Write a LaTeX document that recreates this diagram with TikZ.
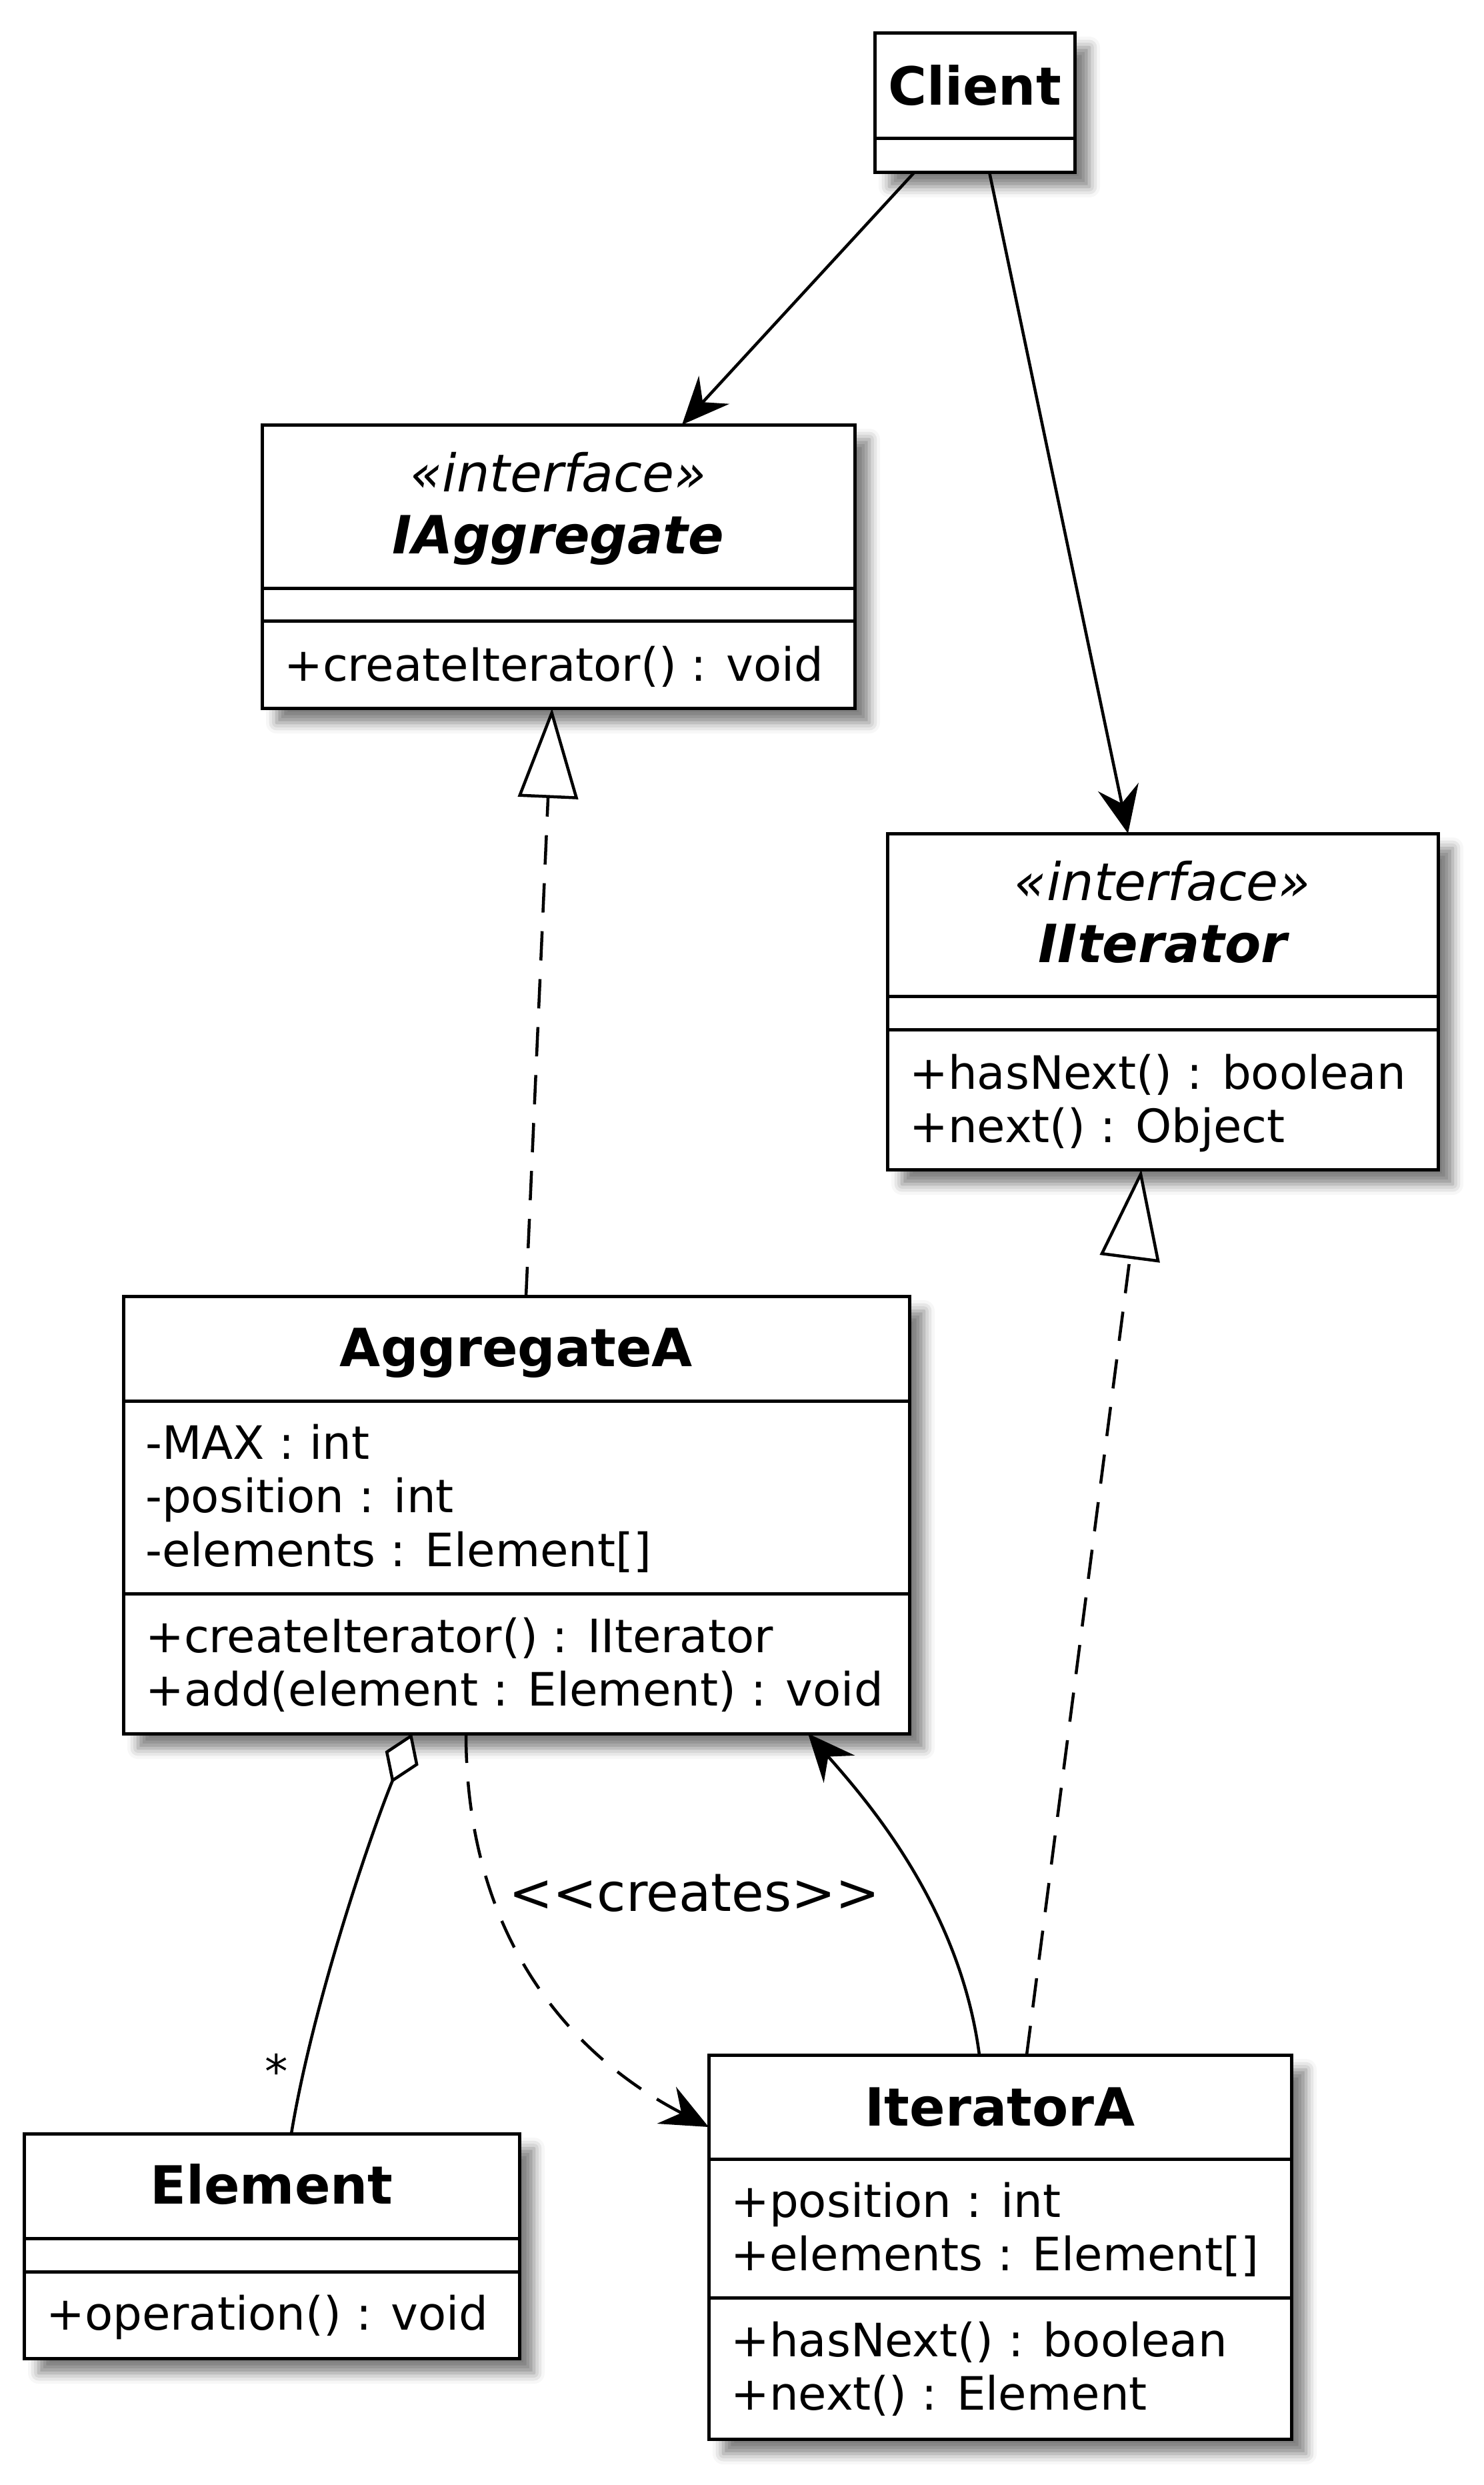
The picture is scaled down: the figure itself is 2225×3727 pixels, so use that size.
\documentclass[tikz,border=0pt]{standalone}
\usepackage{fontspec}
\setmainfont{DejaVu Sans}[ItalicFont={DejaVu Sans Oblique},BoldItalicFont={DejaVu Sans Bold Oblique}]
\usepackage{tikz}
\usetikzlibrary{calc,arrows.meta,shadows.blur}

\begin{document}
\begin{tikzpicture}[x=1pt, y=-1pt]
  \useasboundingbox (0,0) rectangle (2225,3727);

  \tikzset{
    class box/.style={draw, line width=5pt, fill=white, anchor=north west,
      inner sep=0pt, outer sep=0pt,
      blur shadow={shadow xshift=22pt, shadow yshift=-22pt, shadow blur radius=16pt,
        shadow opacity=50}},
    sep line/.style={line width=5pt},
    name text/.style={font=\fontsize{79}{92}\selectfont\bfseries, anchor=base, inner sep=0pt},
    iname text/.style={font=\fontsize{79}{92}\selectfont\bfseries\itshape, anchor=base, inner sep=0pt},
    stereo text/.style={font=\fontsize{78}{90}\selectfont\itshape, anchor=base, inner sep=0pt},
    member text/.style={font=\fontsize{69}{80}\selectfont, anchor=base west, inner sep=0pt},
    label text/.style={font=\fontsize{79}{92}\selectfont, anchor=base west, inner sep=0pt},
    assoc line/.style={line width=4.5pt, -{Stealth[length=71pt, width=62pt, inset=25pt]}},
    dep line/.style={line width=4.5pt, dash pattern=on 44pt off 28pt,
      -{Stealth[length=71pt, width=62pt, inset=25pt]}},
    real line/.style={line width=4.5pt, dash pattern=on 44pt off 28pt,
      -{Triangle[open, fill=white, length=135pt, width=90pt]}},
    aggr line/.style={line width=4.5pt, {Diamond[open, fill=white, length=80pt, width=54pt]}-},
  }

  \newcommand{\classsep}[2]{
    \draw[sep line] ($(#1.north west)+(0,#2)$) -- ($(#1.north east)+(0,#2)$);
  }
  \newcommand{\classmember}[4]{
    \node[member text] (#1) at ($(#2.north west)+(33,#3)$) {#4};
  }

  % Client
  \node[class box, minimum width=300pt, minimum height=209pt] (client) at (1312,49) {};
  \node[name text] (client-name) at ($(client.north)+(0,108)$) {Client};
  \classsep{client}{158}

  % IAggregate
  \node[class box, minimum width=889pt, minimum height=425pt] (iaggr) at (393,637) {};
  \node[stereo text] (iaggr-st) at ($(iaggr.north)+(0,100)$) {«interface»};
  \node[iname text] (iaggr-name) at ($(iaggr.north)+(0,193)$) {IAggregate};
  \classsep{iaggr}{245}
  \classsep{iaggr}{294}
  \classmember{iaggr-m1}{iaggr}{384}{+createIterator() : void}

  % IIterator
  \node[class box, minimum width=826pt, minimum height=504pt] (iiter) at (1331,1250) {};
  \node[stereo text] (iiter-st) at ($(iiter.north)+(0,100)$) {«interface»};
  \node[iname text] (iiter-name) at ($(iiter.north)+(0,193)$) {IIterator};
  \classsep{iiter}{244}
  \classsep{iiter}{294}
  \classmember{iiter-m1}{iiter}{383}{+hasNext() : boolean}
  \classmember{iiter-m2}{iiter}{463}{+next() : Object}

  % AggregateA
  \node[class box, minimum width=1179pt, minimum height=656pt] (aggrA) at (185,1944) {};
  \node[name text] (aggrA-name) at ($(aggrA.north)+(0,105)$) {AggregateA};
  \classsep{aggrA}{157}
  \classmember{aggrA-a1}{aggrA}{244}{-MAX : int}
  \classmember{aggrA-a2}{aggrA}{324}{-position : int}
  \classmember{aggrA-a3}{aggrA}{405}{-elements : Element[]}
  \classsep{aggrA}{446}
  \classmember{aggrA-m1}{aggrA}{534}{+createIterator() : IIterator}
  \classmember{aggrA-m2}{aggrA}{614}{+add(element : Element) : void}

  % Element
  \node[class box, minimum width=743pt, minimum height=337pt] (elem) at (36,3200) {};
  \node[name text] (elem-name) at ($(elem.north)+(0,105)$) {Element};
  \classsep{elem}{157}
  \classsep{elem}{207}
  \classmember{elem-m1}{elem}{294}{+operation() : void}

  % IteratorA
  \node[class box, minimum width=874pt, minimum height=576pt] (iterA) at (1063,3082) {};
  \node[name text] (iterA-name) at ($(iterA.north)+(0,106)$) {IteratorA};
  \classsep{iterA}{156}
  \classmember{iterA-a1}{iterA}{243}{+position : int}
  \classmember{iterA-a2}{iterA}{323}{+elements : Element[]}
  \classsep{iterA}{364}
  \classmember{iterA-m1}{iterA}{452}{+hasNext() : boolean}
  \classmember{iterA-m2}{iterA}{532}{+next() : Element}

  % relations
  \draw[assoc line] ($(client.south west)+(60,0)$) -- ($(iaggr.north west)+(630,0)$);
  \draw[assoc line] ($(client.south west)+(172,0)$) -- ($(iiter.north west)+(361,0)$);
  \draw[real line] ($(aggrA.north west)+(604,0)$) -- ($(iaggr.south west)+(435,0)$);
  \draw[real line] ($(iterA.north west)+(477,0)$) -- ($(iiter.south west)+(381,0)$);
  \draw[assoc line] ($(iterA.north west)+(406,0)$)
    .. controls (1440,2860) and (1300,2700) .. ($(aggrA.south west)+(1027,0)$);
  \draw[aggr line] ($(aggrA.south west)+(433,0)$)
    .. controls (560,2740) and (470,3000) .. ($(elem.north west)+(401,0)$);
  \draw[dep line] ($(aggrA.south west)+(514,0)$)
    .. controls (699,2900) and (850,3080) .. ($(iterA.north west)+(0,108)$);

  % labels
  \node[member text, anchor=base] (mult) at (415,3131) {*};
  \node[label text] (creates-lbl) at (763,2866) {<\kern0pt<creates>\kern0pt>};
\end{tikzpicture}
\end{document}
